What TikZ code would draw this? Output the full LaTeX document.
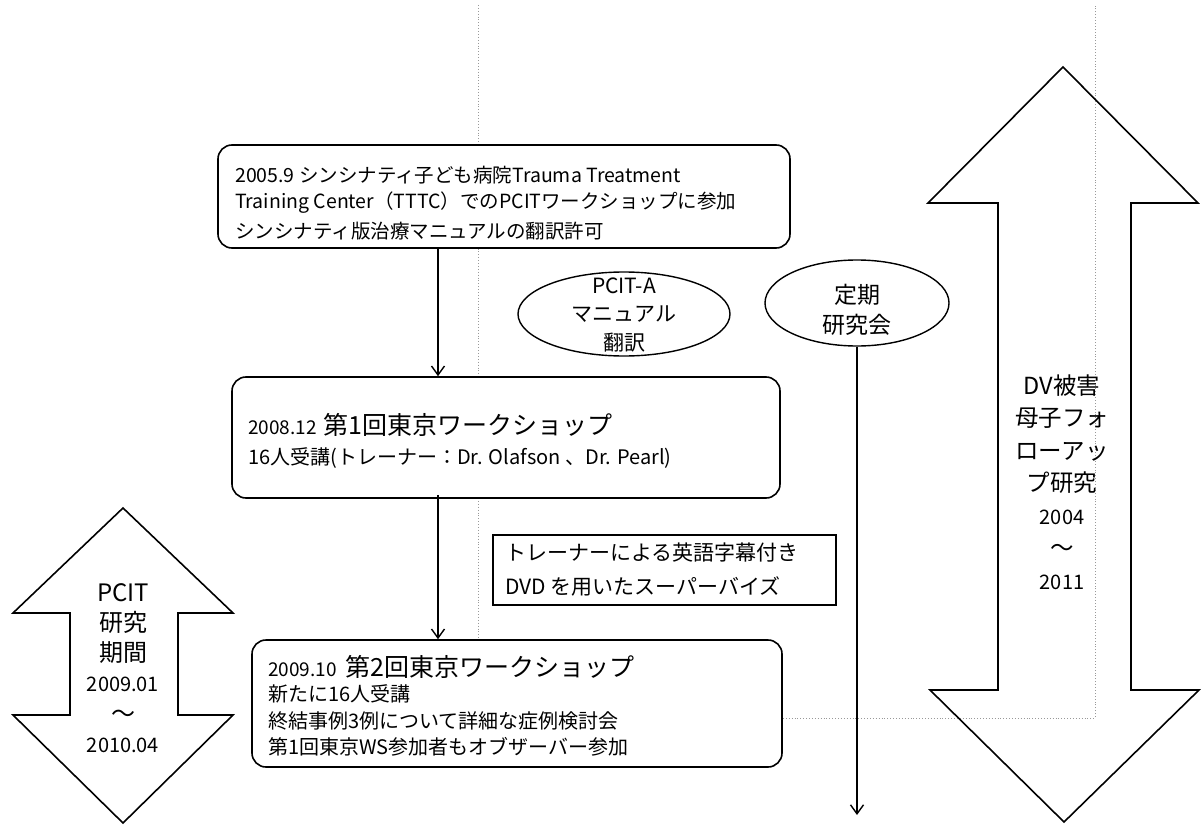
\documentclass[tikz,border=0pt]{standalone}
\usepackage{fontspec}
\setmainfont{Noto Sans CJK JP}
\usetikzlibrary{arrows.meta,shapes.geometric}
\begin{document}
\begin{tikzpicture}[x=1pt,y=-1pt,
  rbox/.style={draw=black, line width=1.6pt, rounded corners=14pt, fill=white, inner sep=0pt},
  sbox/.style={draw=black, line width=1.6pt, fill=white, inner sep=0pt},
  ell/.style={draw=black, line width=1.4pt, ellipse, fill=white, inner sep=0pt},
  conn/.style={line width=1.6pt, -{Straight Barb[length=9pt,width=13pt,line width=1.4pt]}},
  framestyle/.style={draw=black!40, line width=0.9pt, dotted},
  bigarrow/.style={draw=black, line width=1.6pt, line join=miter},
  txt/.style={inner sep=0pt, anchor=west},
  ctxt/.style={inner sep=0pt, align=center},
]
\useasboundingbox (0,0) rectangle (1201,826);

% dotted frame
\draw[framestyle] (478,5) -- (478,718) -- (1095,718) -- (1095,5);

% big double arrows
\draw[bigarrow] (123,508) -- (233,613) -- (178,613) -- (178,715) -- (233,715) -- (123,823)
  -- (13,715) -- (70,715) -- (70,613) -- (13,613) -- cycle;
\draw[bigarrow] (1063,67) -- (1198,203) -- (1131,203) -- (1131,690) -- (1199,690) -- (1064,822)
  -- (930,690) -- (998,690) -- (998,203) -- (928,203) -- cycle;

\node[ctxt, font=\fontsize{24}{30.2}\selectfont] (la) at (123,668)
  {PCIT\\研究\\期間\\{\fontsize{20}{24}\selectfont 2009.01}\\～\\{\fontsize{20}{24}\selectfont 2010.04}};
\node[ctxt, font=\fontsize{23.5}{32.5}\selectfont] (ra) at (1062,482)
  {DV被害\\母子フォ\\ローアッ\\プ研究\\{\fontsize{20}{24}\selectfont 2004}\\～\\{\fontsize{20}{24}\selectfont 2011}};

% top box
\node[rbox, minimum width=572pt, minimum height=103pt] (b1) at (504,196.5) {};
\node[txt, font=\fontsize{19.5}{22}\selectfont] (t11) at (235,175) {2005.9 シンシナティ子ども病院Trauma Treatment};
\node[txt, font=\fontsize{19.5}{22}\selectfont] (t12) at (235,203) {Training Center（TTTC）でのPCITワークショップに参加};
\node[txt, font=\fontsize{19.5}{22}\selectfont] (t13) at (235,231) {シンシナティ版治療マニュアルの翻訳許可};

% ellipses
\node[ell, minimum width=212pt, minimum height=84pt] (e1) at (624,314) {};
\node[ctxt, font=\fontsize{21}{28.5}\selectfont] (e1t) at (624,315) {PCIT-A\\マニュアル\\翻訳};
\node[ell, minimum width=184pt, minimum height=86pt] (e2) at (857,303) {};
\node[ctxt, font=\fontsize{23}{30}\selectfont] (e2t) at (857,310) {定期\\研究会};

% middle box
\node[rbox, minimum width=548pt, minimum height=121pt] (b2) at (506,437.5) {};
\node[txt] (t21) at (248,425) {{\fontsize{19}{22}\selectfont 2008.12}\hspace{0.7em}{\fontsize{25}{28}\selectfont 第1回東京ワークショップ}};
\node[txt, font=\fontsize{20}{22}\selectfont] (t22) at (248,458) {16人受講(トレーナー：Dr. Olafson 、Dr. Pearl)};

% plain rectangle
\node[sbox, minimum width=343pt, minimum height=70pt] (r1) at (664.5,570) {};
\node[txt, font=\fontsize{21}{24}\selectfont] (r11) at (505,553) {トレーナーによる英語字幕付き};
\node[txt, font=\fontsize{21}{24}\selectfont] (r12) at (505,586) {DVD を用いたスーパーバイズ};

% bottom box
\node[rbox, minimum width=530pt, minimum height=127pt] (b3) at (517,703.5) {};
\node[txt] (t31) at (268,667) {{\fontsize{19}{22}\selectfont 2009.10}\hspace{0.9em}{\fontsize{25}{28}\selectfont 第2回東京ワークショップ}};
\node[txt, font=\fontsize{20}{22}\selectfont] (t32) at (268,694) {新たに16人受講};
\node[txt, font=\fontsize{20}{22}\selectfont] (t33) at (268,721) {終結事例3例について詳細な症例検討会};
\node[txt, font=\fontsize{20}{22}\selectfont] (t34) at (268,747) {第1回東京WS参加者もオブザーバー参加};

% connectors
\coordinate (ax) at (438,0);
\coordinate (vend) at (857,815);
\draw[conn] (b1.south -| ax) -- (b2.north -| ax);
\draw[conn] ([yshift=4pt]b2.south -| ax) -- (b3.north -| ax);
\draw[conn] (e2.south) -- (vend);
\end{tikzpicture}
\end{document}
